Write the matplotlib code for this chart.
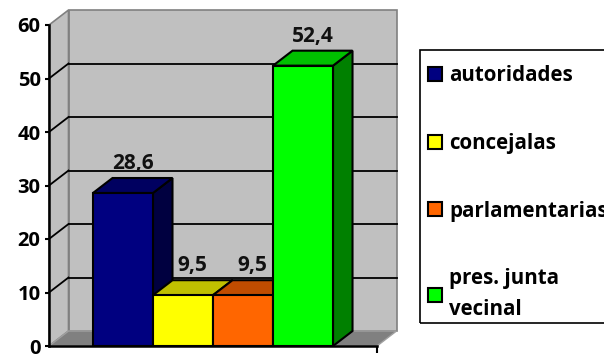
import matplotlib.pyplot as plt
from matplotlib.patches import Patch, Polygon, Rectangle

categories = ["autoridades", "concejalas", "parlamentarias", "pres. junta\nvecinal"]
values = [28.6, 9.5, 9.5, 52.4]
value_labels = ["28,6", "9,5", "9,5", "52,4"]
front_colors = ["#000080", "#FFFF00", "#FF6600", "#00FF00"]
top_colors = ["#000060", "#C0C000", "#C04C00", "#00C000"]
side_colors = ["#000040", "#808000", "#803300", "#008000"]
y_ticks = [0, 10, 20, 30, 40, 50, 60]

FONT = ["Open Sans", "DejaVu Sans"]
plt.rcParams["font.family"] = FONT

# depth of the fake 3D box, in data units
DX = 0.325
DY = 2.8
X0, X1 = -1.233, 4.233
YMAX = 60

fig = plt.figure(figsize=(6.04, 3.54), dpi=100)
ax = fig.add_axes([49 / 604, 1 - 346 / 354, (377 - 49) / 604, (346 - 25) / 354])
ax.set_xlim(X0, X1)
ax.set_ylim(0, YMAX)
ax.patch.set_visible(False)

wall = "#C0C0C0"
wall_edge = "#808080"

# back wall, side wall and floor
ax.add_patch(Polygon([(X0 + DX, DY), (X1 + DX, DY), (X1 + DX, YMAX + DY), (X0 + DX, YMAX + DY)],
                     closed=True, facecolor=wall, edgecolor=wall_edge, lw=1.2, clip_on=False, zorder=0))
ax.add_patch(Polygon([(X0, 0), (X0 + DX, DY), (X0 + DX, YMAX + DY), (X0, YMAX)],
                     closed=True, facecolor=wall, edgecolor=wall_edge, lw=1.2, clip_on=False, zorder=0))
ax.add_patch(Polygon([(X0, 0), (X1, 0), (X1 + DX, DY), (X0 + DX, DY)],
                     closed=True, facecolor="#808080", edgecolor="#A0A0A0", lw=1.0, clip_on=False, zorder=0.5))

# gridlines on back and side wall
for v in y_ticks[1:-1]:
    ax.plot([X0 + DX, X1 + DX], [v + DY, v + DY], color="black", lw=1.3, clip_on=False, zorder=1)
    ax.plot([X0, X0 + DX], [v, v + DY], color="black", lw=1.3, clip_on=False, zorder=1)

# bars: side, top, then front so the next bar hides the hidden faces
for i, v in enumerate(values):
    l, r = i - 0.5, i + 0.5
    z = 2 + i
    ax.add_patch(Polygon([(r, 0), (r + DX, DY), (r + DX, v + DY), (r, v)], closed=True,
                         facecolor=side_colors[i], edgecolor="black", lw=1.5, clip_on=False, zorder=z))
    ax.add_patch(Polygon([(l, v), (r, v), (r + DX, v + DY), (l + DX, v + DY)], closed=True,
                         facecolor=top_colors[i], edgecolor="black", lw=1.5, clip_on=False, zorder=z))
    ax.bar(i, v, width=1.0, color=front_colors[i], edgecolor="black", lw=1.5, zorder=z)
    ax.annotate(value_labels[i], (i + DX / 2, v + DY), xytext=(0, 3), textcoords="offset points",
                ha="center", va="bottom", fontsize=15, fontweight="bold", color="#111111",
                zorder=10, annotation_clip=False)

for s in ["top", "right"]:
    ax.spines[s].set_visible(False)
ax.spines["left"].set_linewidth(1.8)
ax.spines["bottom"].set_linewidth(1.8)
ax.spines["left"].set_zorder(8)
ax.spines["bottom"].set_zorder(8)

ax.set_yticks(y_ticks)
ax.set_yticklabels([str(t) for t in y_ticks], fontsize=14.5, fontweight="bold")
ax.tick_params(axis="y", direction="out", length=3, width=1.5, pad=3)
ax.set_xticks([X1])
ax.set_xticklabels([""])
ax.tick_params(axis="x", direction="out", length=5, width=1.5)

# legend frame drawn by hand, it runs past the right edge like the original
fig.patches.append(Rectangle((420 / 604, 1 - 323 / 354), 0.5, (323 - 50) / 354,
                             transform=fig.transFigure, fill=False, edgecolor="black", lw=1.2))
handles = [Patch(facecolor=c, edgecolor="black", lw=1.5) for c in front_colors]
leg = fig.legend(handles, categories, loc="upper left", bbox_to_anchor=(420 / 604, 1 - 57 / 354),
                 frameon=False, prop={"weight": "bold", "size": 14.8},
                 handlelength=0.68, handleheight=0.68, handletextpad=0.35,
                 labelspacing=2.27, borderpad=0.4, borderaxespad=0)
leg.get_texts()[3].set_linespacing(1.6)

fig.savefig("out.png", dpi=100)
